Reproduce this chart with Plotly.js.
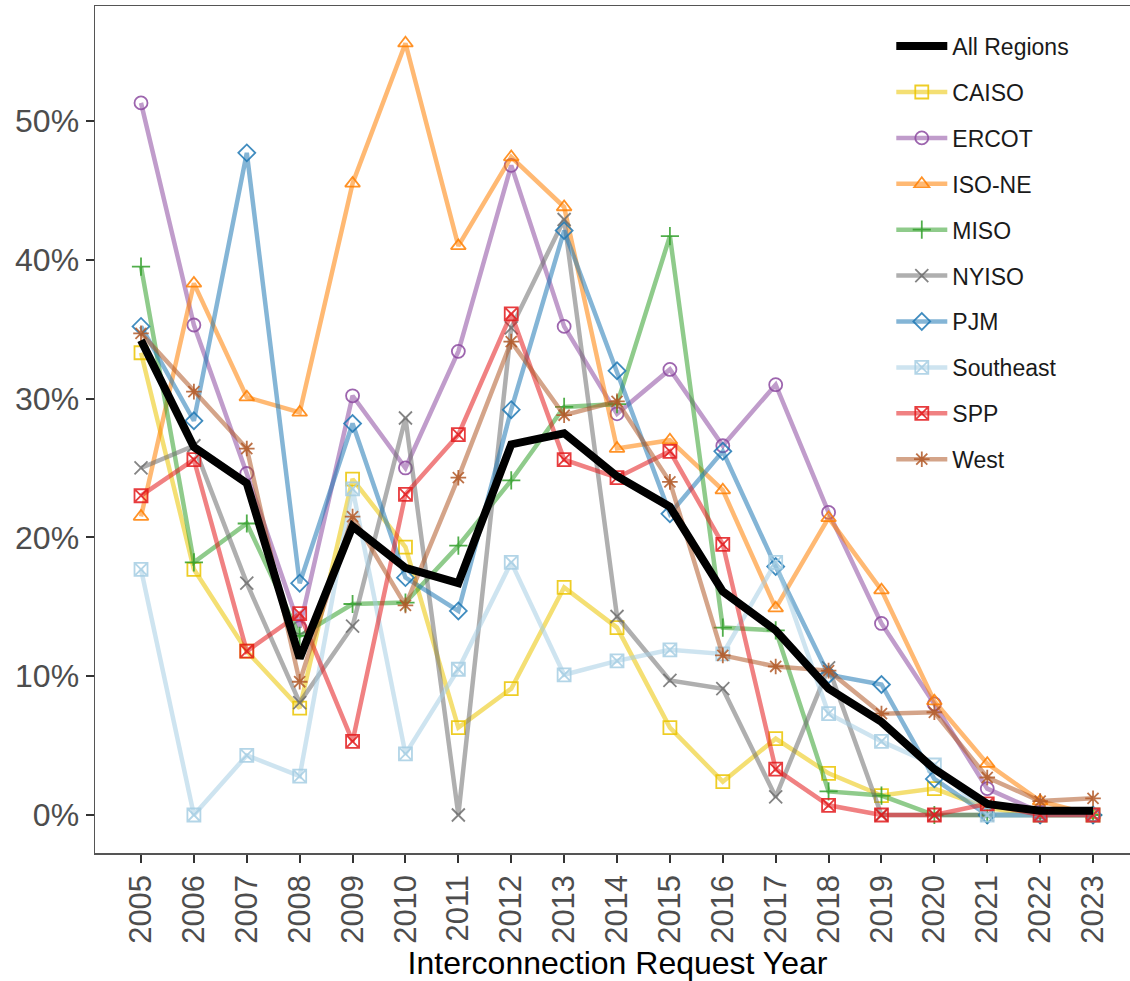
<!DOCTYPE html>
<html>
<head>
<meta charset="utf-8">
<script src="https://cdn.plot.ly/plotly-3.0.1.min.js"></script>
<style>
html, body { margin: 0; padding: 0; overflow: hidden; background: #fff; }
#chart { width: 1142px; height: 981px; }
</style>
</head>
<body>
<div id="chart"></div>
<script>
const years = [2005,2006,2007,2008,2009,2010,2011,2012,2013,2014,2015,2016,2017,2018,2019,2020,2021,2022,2023];

const allRegions = [34.2,26.5,23.9,11.3,20.8,17.8,16.7,26.7,27.5,24.4,22.2,16.1,13.3,9.1,6.7,3.3,0.8,0.3,0.3];
const caiso     = [33.3,17.7,11.8,7.7,24.2,19.3,6.3,9.1,16.4,13.5,6.3,2.4,5.5,3.0,1.4,1.9,0.5,0,0];
const ercot     = [51.3,35.3,24.6,13.5,30.2,25.0,33.4,46.8,35.2,28.9,32.1,26.6,31.0,21.8,13.8,8.0,1.9,0.2,0];
const isone     = [21.5,38.3,30.1,29.0,45.5,55.6,41.0,47.4,43.8,26.4,27.0,23.4,14.9,21.4,16.2,8.2,3.7,1.0,0];
const miso      = [39.5,18.2,21.0,12.9,15.2,15.3,19.4,24.1,29.4,29.6,41.7,13.5,13.3,1.7,1.4,0,0,0,0];
const nyiso     = [25.0,26.6,16.7,8.1,13.6,28.6,0,35.1,42.9,14.3,9.7,9.1,1.3,10.6,0,0,0,0,0];
const pjm       = [35.2,28.4,47.7,16.7,28.2,17.1,14.7,29.2,42.1,32.0,21.7,26.2,17.9,10.1,9.4,2.6,0,0,0];
const southeast = [17.7,0,4.3,2.8,23.5,4.4,10.5,18.2,10.1,11.1,11.9,11.6,18.2,7.3,5.3,3.6,0,0,0];
const spp       = [23.0,25.6,11.8,14.5,5.3,23.1,27.4,36.1,25.6,24.3,26.2,19.5,3.3,0.7,0,0,0.8,0,0];
const west      = [34.7,30.5,26.4,9.6,21.5,15.1,24.3,34.1,28.8,29.8,24.0,11.5,10.7,10.4,7.3,7.4,2.7,1.0,1.2];

const yTicks = [0,10,20,30,40,50];
const yTickText = ["0%","10%","20%","30%","40%","50%"];

const regionNames = ["CAISO","ERCOT","ISO-NE","MISO","NYISO","PJM","Southeast","SPP","West"];
const regionValues = [caiso, ercot, isone, miso, nyiso, pjm, southeast, spp, west];
const regionColors = ["235,196,0","140,74,160","255,127,0","51,160,44","110,110,110","31,120,180","166,206,227","227,26,28","177,89,40"];
const regionSymbols = ["square-open","circle-open","triangle-up-open","cross-thin-open","x-thin-open","diamond-open","square-x-open","square-x-open","asterisk-open"];

const traces = regionNames.map((name, i) => ({
  x: years,
  y: regionValues[i],
  name: name,
  type: "scatter",
  mode: "lines+markers",
  legendgroup: name,
  legendrank: i + 2,
  line: { color: "rgba(" + regionColors[i] + ",0.55)", width: 4.5 },
  marker: {
    symbol: regionSymbols[i],
    size: 13,
    color: "rgba(" + regionColors[i] + ",0.85)",
    line: { color: "rgba(" + regionColors[i] + ",0.85)", width: 1.8 }
  }
}));

traces.push({
  x: years,
  y: allRegions,
  name: "All Regions",
  type: "scatter",
  mode: "lines",
  legendgroup: "All Regions",
  legendrank: 1,
  line: { color: "#000000", width: 8 }
});

const layout = {
  width: 1142,
  height: 981,
  margin: { l: 95, r: 2, t: 6, b: 128 },
  paper_bgcolor: "#ffffff",
  plot_bgcolor: "#ffffff",
  font: { family: "Liberation Sans, Arial, sans-serif", color: "#4d4d4d" },
  showlegend: true,
  legend: {
    x: 0.762, y: 0.978, xanchor: "left", yanchor: "top",
    bgcolor: "rgba(255,255,255,0)",
    font: { size: 23, color: "#1a1a1a", family: "Liberation Sans, Arial, sans-serif" },
    tracegroupgap: 13,
    itemwidth: 51
  },
  xaxis: {
    range: [2004.13, 2023.888],
    tickmode: "array",
    tickvals: years,
    ticktext: years.map(String),
    tickangle: -90,
    tickfont: { size: 31, color: "#4d4d4d" },
    ticks: "outside", ticklen: 8, tickwidth: 2, tickcolor: "#333333",
    showgrid: false, zeroline: false,
    showline: true, mirror: true, linecolor: "#555555", linewidth: 1.5,
    title: { text: "Interconnection Request Year", font: { size: 32, color: "#000000" }, standoff: 12 },
    automargin: false
  },
  yaxis: {
    range: [-2.738, 58.28],
    tickmode: "array",
    tickvals: yTicks,
    ticktext: yTickText,
    tickfont: { size: 32, color: "#4d4d4d" },
    ticks: "outside", ticklen: 8, tickwidth: 2, tickcolor: "#333333",
    showgrid: false, zeroline: false,
    showline: true, mirror: true, linecolor: "#555555", linewidth: 1.5,
    automargin: false
  }
};

Plotly.newPlot("chart", traces, layout, { displayModeBar: false, staticPlot: true });
</script>
</body>
</html>
